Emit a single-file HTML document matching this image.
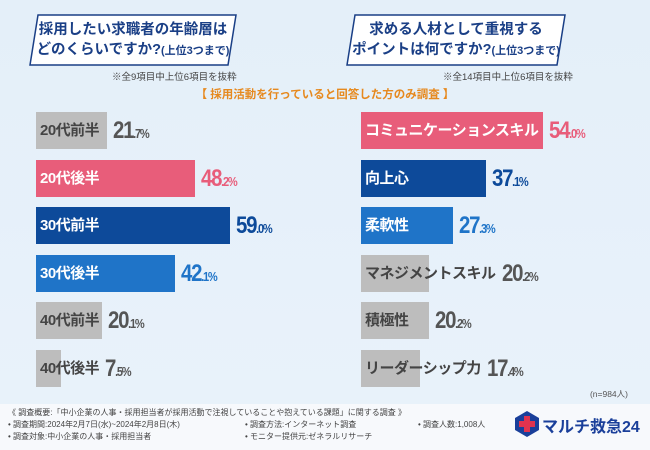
<!DOCTYPE html>
<html><head><meta charset="utf-8"><style>
body{margin:0;width:650px;height:450px;overflow:hidden;font-family:"Liberation Sans","Noto Sans CJK JP",sans-serif;}
#root{position:relative;width:650px;height:450px;background:linear-gradient(180deg,#e4eff9,#e9f2fa);}
.hd{position:absolute;top:14px;height:52px;}
.hd svg{position:absolute;left:0;top:0}
.hd div{position:absolute;left:0;right:0;top:6px;text-align:center;color:#1a3f86;font-weight:bold;font-size:14.5px;line-height:20px}
.note{position:absolute;top:69px;font-size:9.5px;color:#444}
.bar{position:absolute;height:37px}
.lab{position:absolute;font-size:15px;font-weight:bold;line-height:37px;white-space:nowrap;letter-spacing:-0.5px}
.val{position:absolute;font-weight:bold;line-height:37px;white-space:nowrap;letter-spacing:-1.5px;transform-origin:left center;transform:scaleX(0.85)}
.val b{font-size:24px}.val i{font-style:normal;font-size:13px}
.foot{position:absolute;left:0;top:404px;width:650px;height:46px;background:#f7f9fc;font-size:8px;color:#444}
.foot span{position:absolute;white-space:nowrap}
</style></head><body>
<div id="root">
<div class="hd" style="left:28px;width:210px">
<svg width="210" height="52"><polygon points="10,1 208,1 200,51 2,51" fill="#fff" stroke="#1a3f86" stroke-width="1.5"/></svg>
<div>採用したい求職者の年齢層は<br>どのくらいですか?<span style="font-size:11px">(上位3つまで)</span></div></div>
<div class="hd" style="left:345px;width:222px">
<svg width="222" height="52"><polygon points="10,1 220,1 212,51 2,51" fill="#fff" stroke="#1a3f86" stroke-width="1.5"/></svg>
<div>求める人材として重視する<br>ポイントは何ですか?<span style="font-size:11px">(上位3つまで)</span></div></div>
<div class="note" style="left:112px">※全9項目中上位6項目を抜粋</div>
<div class="note" style="left:443px">※全14項目中上位6項目を抜粋</div>
<div style="position:absolute;left:0;width:650px;top:86px;text-align:center;color:#e6891e;font-size:11.5px;font-weight:bold">【 採用活動を行っていると回答した方のみ調査 】</div>
<div id="charts"></div>
<div style="position:absolute;right:22px;top:388px;font-size:8.5px;color:#555">(n=984人)</div>
<div class="foot">
<span style="left:8px;top:3px">《 調査概要:「中小企業の人事・採用担当者が採用活動で注視していることや抱えている課題」に関する調査 》</span>
<span style="left:8px;top:15px">• 調査期間:2024年2月7日(水)~2024年2月8日(木)</span>
<span style="left:8px;top:27px">• 調査対象:中小企業の人事・採用担当者</span>
<span style="left:245px;top:15px">• 調査方法:インターネット調査</span>
<span style="left:245px;top:27px">• モニター提供元:ゼネラルリサーチ</span>
<span style="left:418px;top:15px">• 調査人数:1,008人</span>
<svg style="position:absolute;left:515px;top:7px" width="24" height="26"><polygon points="12,0 24,7 24,19 12,26 0,19 0,7" fill="#1a3f9a"/><rect x="9" y="5" width="6" height="16" fill="#e0334f"/><rect x="4" y="10" width="16" height="6" fill="#e0334f"/></svg>
<span style="left:542px;top:9px;font-size:16px;color:#1a3f9a;font-weight:bold">マルチ救急24</span>
</div>
</div>
<script>
const leftCats=["20代前半","20代後半","30代前半","30代後半","40代前半","40代後半"];
const leftVals=[21.7,48.2,59.0,42.1,20.1,7.5];
const leftColors=["gray","pink","navy","blue","gray","gray"];
const rightCats=["コミュニケーションスキル","向上心","柔軟性","マネジメントスキル","積極性","リーダーシップ力"];
const rightVals=[54.0,37.1,27.3,20.2,20.2,17.4];
const rightColors=["pink","navy","blue","gray","gray","gray"];
const pal={gray:["#bdbdbd","#444","#555"],pink:["#e85d7a","#fff","#e85d7a"],navy:["#0d4a9a","#fff","#0d4a9a"],blue:["#1f74c8","#fff","#1f74c8"]};
const root=document.getElementById('charts');
function rowY(i){return 112+i*47.6;}
function draw(cats,vals,cols,x0,scale,side){
 cats.forEach((c,i)=>{
  const p=pal[cols[i]],w=vals[i]*scale,y=rowY(i);
  const b=document.createElement('div');b.className='bar';
  
  
  b.style.cssText=`left:${x0}px;top:${y}px;width:${w}px;background:${p[0]}`;root.appendChild(b);
  const l=document.createElement('div');l.className='lab';
  
  
  l.style.cssText=`left:${x0+4}px;top:${y}px;color:${p[1]}`;l.textContent=c;root.appendChild(l);
  const lw=l.getBoundingClientRect().width;
  const v=document.createElement('div');v.className='val';
  
  
  const s=vals[i].toFixed(1).split('.');
  v.innerHTML=`<b>${s[0]}</b><i>.${s[1]}%</i>`;
  v.style.cssText=`left:${Math.max(x0+w,x0+4+lw)+6}px;top:${y}px;color:${p[2]}`;root.appendChild(v);
 });
}
draw(leftCats,leftVals,leftColors,36,3.29,'left');
draw(rightCats,rightVals,rightColors,361,3.37,'right');
</script>
</body></html>
